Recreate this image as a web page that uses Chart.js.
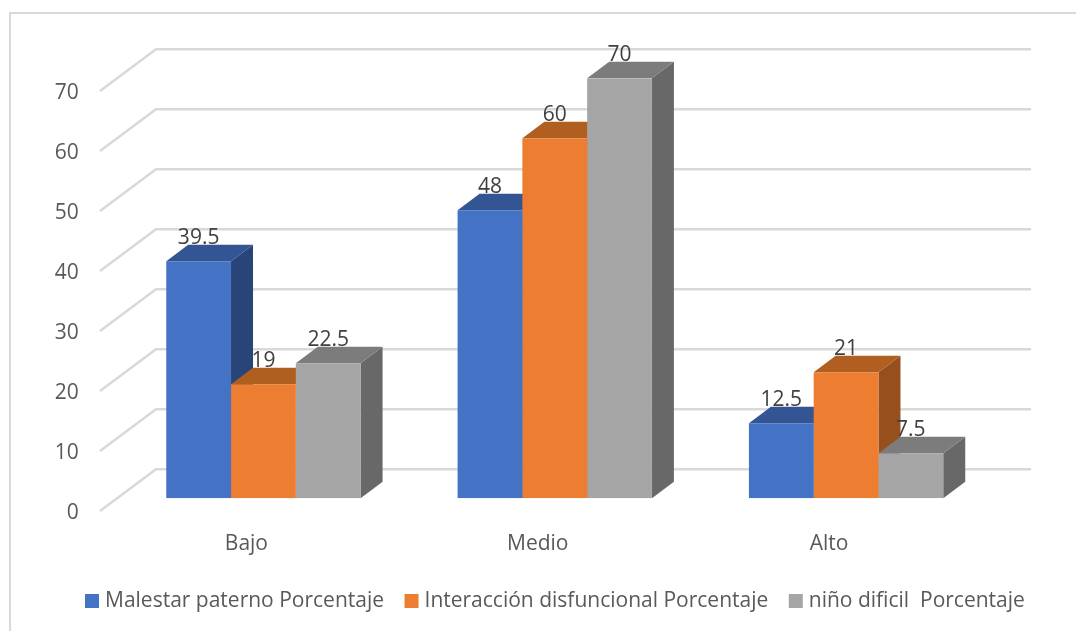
<!DOCTYPE html>
<html>
<head>
<meta charset="utf-8">
<title>Porcentajes por nivel</title>
<style>
    html, body { margin: 0; padding: 0; background: #ffffff; overflow: hidden; }
    #wrap { position: relative; width: 1076px; height: 631px; }
</style>
<script src="https://cdn.jsdelivr.net/npm/chart.js@4"></script>
</head>
<body>
<div id="wrap"><canvas id="chartNiveles" width="1076" height="631"></canvas></div>
<script>
// Datos
const categorias = ['Bajo', 'Medio', 'Alto'];
const malestar = [39.5, 48, 12.5];
const interaccion = [19, 60, 21];
const ninoDificil = [22.5, 70, 7.5];
const nombresSeries = [
    'Malestar paterno Porcentaje',
    'Interacción disfuncional Porcentaje',
    'niño dificil  Porcentaje'
];

// Colores de cada serie: frente, cara superior, cara lateral
const frentes = ['#4472c4', '#ed7d31', '#a5a5a5'];
const techos = ['#335593', '#b15e21', '#7c7c7c'];
const lados = ['#284479', '#964f1d', '#686868'];

const FUENTE = '"Open Sans", sans-serif';
const TAM_TEXTO = 21;
const PROF_BARRA = { x: 22, y: 16.5 };   // profundidad de las barras
const GRIS_REJILLA = '#d9d9d9';

// Paredes con rejilla en perspectiva, detrás de las barras
function dibujarRejilla(chart) {
    const { ctx, scales: { y } } = chart;
    ctx.save();
    ctx.strokeStyle = GRIS_REJILLA;
    ctx.lineWidth = 2.5;
    y.ticks.forEach(t => {
        const py = y.getPixelForValue(t.value);
        ctx.beginPath();
        ctx.moveTo(100, py + 12.7);
        ctx.lineTo(156, py - 29);
        ctx.lineTo(1031, py - 29);
        ctx.stroke();
    });
    ctx.restore();
}

// Caras lateral y superior de cada barra
function dibujarCaras(chart) {
    const { ctx } = chart;
    const dx = PROF_BARRA.x, dy = PROF_BARRA.y;
    const poligono = (color, pts) => {
        ctx.fillStyle = color;
        ctx.beginPath();
        pts.forEach((p, i) => i ? ctx.lineTo(p[0], p[1]) : ctx.moveTo(p[0], p[1]));
        ctx.closePath();
        ctx.fill();
    };
    chart.data.datasets.forEach((ds, i) => {
        chart.getDatasetMeta(i).data.forEach(bar => {
            const izq = bar.x - bar.width / 2, der = bar.x + bar.width / 2;
            poligono(lados[i], [[der, bar.y], [der + dx, bar.y - dy], [der + dx, bar.base - dy], [der, bar.base]]);
            poligono(techos[i], [[izq, bar.y], [izq + dx, bar.y - dy], [der + dx, bar.y - dy], [der, bar.y]]);
        });
    });
}

// Etiquetas de valor sobre el frente de cada barra
function dibujarValores(chart) {
    const { ctx } = chart;
    ctx.save();
    ctx.font = TAM_TEXTO + 'px ' + FUENTE;
    ctx.fillStyle = '#404040';
    ctx.textAlign = 'center';
    ctx.textBaseline = 'middle';
    chart.data.datasets.forEach((ds, i) => {
        chart.getDatasetMeta(i).data.forEach((bar, j) => {
            ctx.fillText(String(ds.data[j]), bar.x, bar.y - 23);
        });
    });
    ctx.restore();
}

// Leyenda inferior
function dibujarLeyenda(chart) {
    const { ctx } = chart;
    ctx.save();
    ctx.font = TAM_TEXTO + 'px ' + FUENTE;
    ctx.textBaseline = 'middle';
    let x = 85;
    chart.data.datasets.forEach(ds => {
        ctx.fillStyle = ds.backgroundColor;
        ctx.fillRect(x, 594, 14, 14);
        ctx.fillStyle = '#595959';
        ctx.fillText(ds.label, x + 20, 601.5);
        x += 20 + ctx.measureText(ds.label).width + 20.5;
    });
    ctx.restore();
}

const pluginTresD = {
    id: 'barras3d',
    beforeDraw(chart) {
        const { ctx, width, height } = chart;
        ctx.save();
        ctx.fillStyle = '#ffffff';
        ctx.fillRect(0, 0, width, height);
        // marco exterior
        ctx.strokeStyle = GRIS_REJILLA;
        ctx.lineWidth = 2;
        ctx.beginPath();
        ctx.moveTo(10, height);
        ctx.lineTo(10, 13);
        ctx.lineTo(width, 13);
        ctx.stroke();
        ctx.restore();
    },
    beforeDatasetsDraw(chart) {
        dibujarRejilla(chart);
        dibujarCaras(chart);
    },
    afterDatasetsDraw(chart) {
        dibujarValores(chart);
        dibujarLeyenda(chart);
    }
};

const ctx = document.getElementById('chartNiveles').getContext('2d');
new Chart(ctx, {
    type: 'bar',
    data: {
        labels: categorias,
        datasets: [malestar, interaccion, ninoDificil].map((valores, i) => ({
            label: nombresSeries[i],
            data: valores,
            backgroundColor: frentes[i],
            borderWidth: 0,
            barPercentage: 1,
            categoryPercentage: 0.667
        }))
    },
    options: {
        responsive: false,
        animation: false,
        layout: {
            padding: { left: 0, right: 84.25, top: 78.3, bottom: 0 }
        },
        plugins: {
            legend: { display: false },
            tooltip: { enabled: false }
        },
        scales: {
            x: {
                grid: { display: false },
                border: { display: false },
                afterFit: s => { s.height = 132.7; },
                ticks: {
                    labelOffset: -17,
                    padding: 25,
                    color: '#595959',
                    font: { family: FUENTE, size: TAM_TEXTO }
                }
            },
            y: {
                min: 0,
                max: 70,
                grid: { display: false },
                border: { display: false },
                afterFit: s => { s.width = 117.75; },
                ticks: {
                    stepSize: 10,
                    labelOffset: 15,
                    padding: 31,
                    color: '#595959',
                    font: { family: FUENTE, size: TAM_TEXTO }
                }
            }
        }
    },
    plugins: [pluginTresD]
});
</script>
</body>
</html>
